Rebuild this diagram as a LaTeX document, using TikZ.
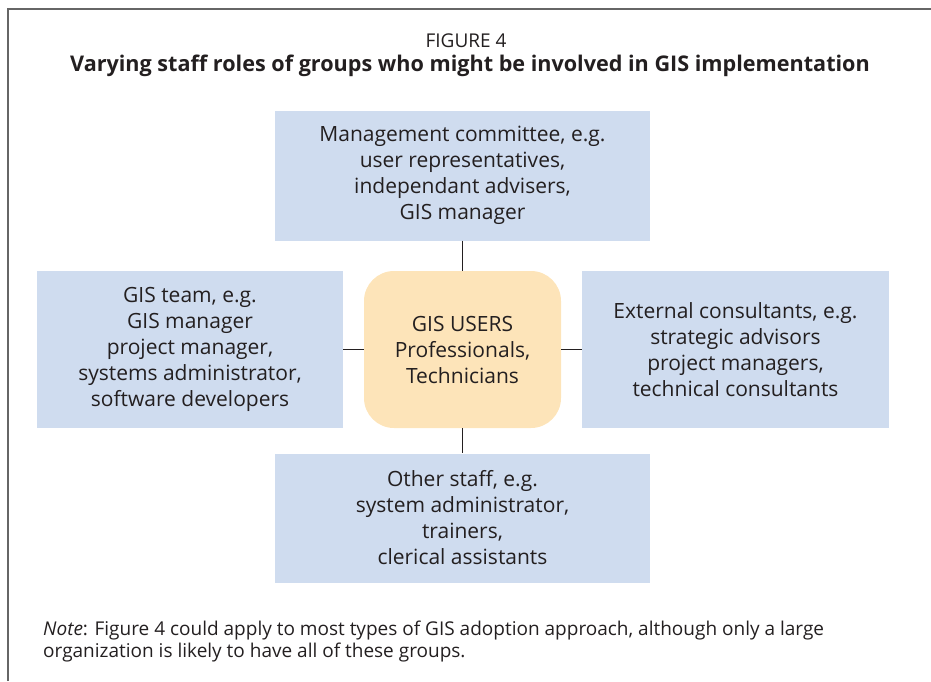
\documentclass[tikz,border=0pt]{standalone}
\usepackage{fontspec}
\setmainfont{Open Sans}
\usepackage{tikz}
\usetikzlibrary{positioning}
\definecolor{boxblue}{RGB}{207,220,239}
\definecolor{useramber}{RGB}{253,228,185}
\definecolor{inkgray}{RGB}{35,31,32}
\tikzset{
  groupbox/.style={fill=boxblue, draw=none, align=center, text=inkgray,
    font=\fontsize{21}{26}\selectfont, inner sep=0pt},
  usersbox/.style={groupbox, fill=useramber, rounded corners=30pt},
  link/.style={draw=inkgray, line width=0.9pt}
}
\begin{document}
\begin{tikzpicture}[x=1pt,y=-1pt]
\useasboundingbox (0,0) rectangle (931,681);
\draw[color=black!60, line width=1.5pt] (8,681) -- (8,9) -- (931,9);
\node[text=inkgray, font=\fontsize{19}{22}\selectfont] (fig_no) at (466,41) {FIGURE 4};
\node[text=inkgray, font=\fontsize{21.6}{24}\selectfont\bfseries] (fig_title) at (470,66)
  {Varying staff roles of groups who might be involved in GIS implementation};
\node[groupbox, minimum width=375pt, minimum height=130pt] (mgmt) at (462.5,175.5)
  {Management committee, e.g.\\ user representatives,\\ independant advisers,\\ GIS manager};
\node[groupbox, minimum width=306pt, minimum height=157pt] (team) at (190,349.5)
  {GIS team, e.g.\\ GIS manager\\ project manager,\\ systems administrator,\\ software developers};
\node[usersbox, minimum width=197pt, minimum height=157pt] (users) at (462.5,349.5)
  {GIS USERS\\ Professionals,\\ Technicians};
\node[groupbox, minimum width=375pt, minimum height=129pt] (other) at (462.5,518)
  {Other staff, e.g.\\ system administrator,\\ trainers,\\ clerical assistants};
\node[groupbox, minimum width=307pt, minimum height=157pt] (ext) at (735.5,349.5)
  {External consultants, e.g.\\ strategic advisors\\ project managers,\\ technical consultants};
\draw[link] (mgmt.south) -- (users.north);
\draw[link] (users.south) -- (other.north);
\draw[link] (team.east) -- (users.west);
\draw[link] (users.east) -- (ext.west);
\node[anchor=north west, align=left, text=inkgray, inner sep=0pt,
  font=\fontsize{19}{22}\selectfont] (fig_note) at (43,621)
  {\textit{Note}: Figure 4 could apply to most types of GIS adoption approach, although only a large\\
   organization is likely to have all of these groups.};
\end{tikzpicture}
\end{document}
